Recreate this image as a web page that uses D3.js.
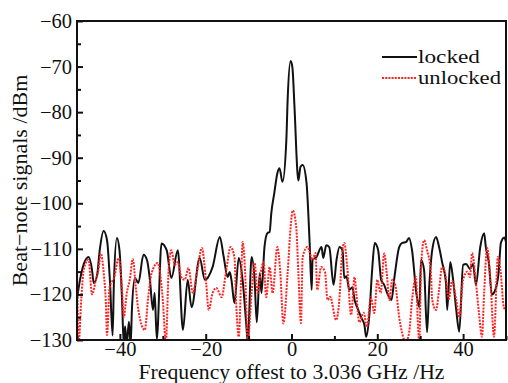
<!DOCTYPE html>
<html>
<head>
<meta charset="utf-8">
<script src="https://cdn.jsdelivr.net/npm/d3@7"></script>
<style>
  body { margin: 0; background: #fff; }
  svg { display: block; }
  text { font-family: "Liberation Serif", "DejaVu Serif", serif; fill: #111; }
</style>
</head>
<body>
<svg id="chart"></svg>
<script>
// frequency offset (Hz) and beat-note power (dBm)
const lockedFreq = [-50.0, -49.3, -48.4, -47.3, -46.5, -46.1, -45.3, -44.7, -43.8, -43.0, -42.3, -41.7, -41.4, -40.7, -40.1, -39.5, -39.1, -38.8, -38.4, -37.9, -37.5, -37.2, -36.5, -35.7, -34.5, -33.7, -33.0, -32.3, -31.9, -31.4, -30.3, -29.1, -28.0, -26.5, -25.3, -24.2, -23.3, -21.4, -20.2, -18.4, -16.7, -15.8, -14.9, -14.4, -14.0, -13.3, -12.3, -11.4, -10.5, -10.2, -9.3, -8.6, -8.1, -7.4, -7.0, -6.3, -5.6, -5.1, -4.7, -4.0, -3.3, -2.8, -2.1, -1.2, -0.9, -0.2, 0.2, 0.7, 1.4, 1.6, 2.1, 2.6, 3.5, 4.2, 4.7, 4.9, 5.8, 7.0, 7.4, 8.1, 8.8, 9.8, 10.5, 11.2, 11.9, 12.3, 12.8, 13.5, 14.2, 14.7, 15.3, 16.3, 17.0, 17.4, 18.1, 18.8, 19.4, 20.2, 20.9, 21.6, 22.3, 23.3, 24.0, 25.1, 25.8, 26.7, 27.4, 28.1, 29.1, 29.8, 30.2, 30.9, 31.6, 32.1, 32.8, 33.7, 34.4, 35.1, 36.0, 36.3, 37.0, 37.6, 38.4, 39.1, 40.0, 40.7, 41.6, 42.3, 43.0, 44.0, 44.9, 45.3, 46.0, 46.7, 47.5, 48.3, 48.8, 49.6, 50.0];
const lockedPower = [-121.0, -116.8, -113.3, -111.8, -114.6, -117.5, -115.7, -110.3, -106.1, -108.1, -117.5, -129.0, -117.5, -107.6, -110.3, -121.2, -131, -127, -131, -126, -131, -123.4, -116.4, -117.5, -111.3, -112.4, -116.8, -123.4, -119.7, -129.8, -108.8, -110.3, -116.4, -110.3, -127.8, -116.8, -122.8, -112.0, -116.8, -114.0, -107.4, -111.8, -116.2, -115.1, -116.8, -121.9, -112.0, -116.8, -127.1, -130.5, -111.8, -116.8, -126.1, -115.3, -119.7, -109.6, -106.5, -106.3, -102.1, -97.7, -93.4, -92.3, -95.3, -86.1, -77.3, -68.8, -70.1, -78.9, -93.4, -95.0, -92.0, -91.6, -95.5, -108.1, -119.0, -112.4, -111.8, -109.6, -112.0, -109.2, -109.6, -117.9, -112.4, -109.6, -110.3, -116.4, -116.0, -119.0, -118.4, -121.2, -122.8, -125.2, -126.7, -129.3, -125.0, -114.6, -108.7, -110.3, -116.8, -117.9, -119.7, -121.2, -116.2, -109.6, -108.7, -108.5, -107.6, -110.3, -119.7, -122.8, -112.4, -114.6, -128.3, -118.4, -110.3, -107.4, -109.6, -112.9, -117.3, -123.4, -112.9, -116.2, -123.4, -128.2, -113.5, -113.3, -114.4, -113.3, -117.9, -109.6, -106.6, -109.6, -113.0, -120.0, -119.0, -115.0, -108.7, -107.5, -108.5];

const unlockedFreq = [-50.0, -49.6, -49.0, -48.4, -47.3, -46.5, -45.6, -44.9, -44.5, -43.7, -43.3, -43.0, -42.4, -41.3, -40.3, -39.5, -39.1, -38.4, -37.7, -37.0, -36.3, -35.7, -34.2, -33.4, -32.6, -31.2, -30.0, -29.3, -28.6, -28.0, -27.2, -26.5, -25.7, -24.9, -24.0, -23.0, -22.0, -20.9, -19.9, -19.3, -18.4, -17.5, -16.3, -15.3, -14.2, -13.3, -12.9, -12.3, -11.7, -11.4, -10.8, -10.2, -9.3, -8.6, -7.9, -7.2, -6.5, -5.9, -5.1, -4.4, -3.3, -2.6, -1.9, -0.9, -0.2, 0.3, 1.1, 1.6, 2.2, 2.6, 3.7, 4.9, 5.6, 6.0, 6.9, 7.8, 8.4, 9.0, 10.4, 11.2, 11.8, 12.3, 13.0, 13.9, 14.7, 15.1, 15.8, 16.8, 17.6, 18.5, 19.3, 20.0, 20.8, 21.6, 22.2, 22.8, 23.5, 24.2, 25.1, 25.8, 26.6, 27.4, 28.1, 29.0, 29.5, 29.8, 30.2, 30.9, 31.6, 32.5, 32.8, 33.7, 34.4, 35.1, 35.8, 36.7, 37.4, 38.4, 39.1, 40.0, 41.0, 41.6, 42.1, 43.0, 43.7, 44.4, 44.9, 45.6, 46.4, 47.2, 48.1, 48.7, 49.5, 50.0];
const unlockedPower = [-114.2, -130.5, -121.0, -114.4, -112.4, -120.0, -116.8, -114.0, -111.0, -116.0, -121.2, -128.9, -118.4, -116.2, -112.0, -119.0, -125.0, -119.7, -116.8, -112.2, -118.4, -123.4, -127.8, -120.6, -115.3, -113.1, -121.2, -130.5, -114.0, -110.3, -113.5, -112.9, -116.2, -116.8, -114.2, -119.7, -115.0, -109.8, -117.5, -123.4, -119.7, -118.6, -120.6, -115.3, -109.6, -111.8, -121.9, -129.3, -115.3, -108.5, -115.3, -130.5, -119.7, -113.1, -119.7, -115.3, -112.9, -120.6, -114.0, -119.7, -109.6, -115.3, -126.4, -115.3, -105.2, -101.6, -105.2, -115.3, -126.3, -111.8, -109.6, -112.4, -110.9, -119.0, -114.0, -115.0, -121.2, -120.5, -125.6, -120.6, -110.9, -108.7, -114.0, -124.5, -116.2, -119.7, -126.1, -124.0, -127.1, -120.6, -124.1, -116.8, -119.7, -111.0, -115.3, -121.2, -116.8, -118.0, -125.0, -128.5, -130.5, -128.5, -121.2, -116.2, -127.1, -130.5, -114.0, -108.1, -110.3, -115.3, -121.2, -123.4, -119.0, -114.0, -115.3, -121.0, -117.0, -121.2, -125.0, -116.8, -115.0, -116.2, -110.9, -117.5, -124.1, -129.3, -119.7, -109.8, -117.5, -129.3, -111.8, -114.6, -122.8, -123.5];

const xTicks = [-40, -20, 0, 20, 40];
const xMinor = [-50, -30, -10, 10, 30, 50];
const yTicks = [-130, -120, -110, -100, -90, -80, -70, -60];
const yMinor = [-125, -115, -105, -95, -85, -75, -65];
const seriesNames = ['locked', 'unlocked'];

const width = 508, height = 383;
const margin = { top: 21, right: 2, bottom: 43, left: 77 };

const svg = d3.select('#chart')
    .attr('width', width)
    .attr('height', height);

const x = d3.scaleLinear()
    .domain([-50, 50])
    .range([margin.left, width - margin.right]);

const y = d3.scaleLinear()
    .domain([-130, -60])
    .range([height - margin.bottom, margin.top]);

svg.append('clipPath').attr('id', 'plot')
    .append('rect')
    .attr('x', margin.left).attr('y', margin.top)
    .attr('width', x(50) - x(-50)).attr('height', y(-130) - y(-60));

const locked = lockedFreq.map((f, i) => [f, lockedPower[i]]);
const unlocked = unlockedFreq.map((f, i) => [f, unlockedPower[i]]);

const line = d3.line()
    .x(d => x(d[0]))
    .y(d => y(d[1]))
    .curve(d3.curveMonotoneX);

const plot = svg.append('g').attr('clip-path', 'url(#plot)');

plot.append('path')
    .datum(locked)
    .attr('fill', 'none')
    .attr('stroke', '#111')
    .attr('stroke-width', 2)
    .attr('stroke-linejoin', 'round')
    .attr('d', line);

plot.append('path')
    .datum(unlocked)
    .attr('fill', 'none')
    .attr('stroke', '#f22')
    .attr('stroke-width', 2)
    .attr('stroke-dasharray', '2,1.2')
    .attr('d', line);

// axes, ticks pointing inward
const xAxis = g => g
    .attr('transform', `translate(0,${y(-130)})`)
    .call(d3.axisBottom(x).tickValues(xTicks).tickSize(-6).tickPadding(1))
    .call(g => g.select('.domain').remove());

const yAxis = g => g
    .attr('transform', `translate(${x(-50)},0)`)
    .call(d3.axisLeft(y).tickValues(yTicks).tickSize(-6).tickPadding(5))
    .call(g => g.select('.domain').remove());

svg.append('g').call(xAxis);
svg.append('g').call(yAxis);

svg.append('g')
    .attr('transform', `translate(0,${y(-130)})`)
    .call(d3.axisBottom(x).tickValues(xMinor).tickSize(-4).tickFormat(''))
    .call(g => g.select('.domain').remove());

svg.append('g')
    .attr('transform', `translate(${x(-50)},0)`)
    .call(d3.axisLeft(y).tickValues(yMinor).tickSize(-4).tickFormat(''))
    .call(g => g.select('.domain').remove());

svg.selectAll('.tick line').attr('stroke', '#111').attr('stroke-width', 2);
svg.selectAll('.tick text')
    .attr('font-family', '"Liberation Serif", serif')
    .attr('font-size', 20.5)
    .attr('fill', '#111');

// frame
svg.append('rect')
    .attr('x', x(-50)).attr('y', y(-60))
    .attr('width', x(50) - x(-50)).attr('height', y(-130) - y(-60))
    .attr('fill', 'none')
    .attr('stroke', '#111')
    .attr('stroke-width', 2);

// axis titles (stretched a little to the width of the original serif face)
svg.append('text')
    .attr('x', (x(-50) + x(50)) / 2)
    .attr('y', 378.5)
    .attr('text-anchor', 'middle')
    .attr('font-size', 20)
    .attr('textLength', 306)
    .attr('lengthAdjust', 'spacingAndGlyphs')
    .text('Frequency offest to 3.036 GHz /Hz');

svg.append('text')
    .attr('transform', `translate(27,${(y(-60) + y(-130)) / 2}) rotate(-90)`)
    .attr('text-anchor', 'middle')
    .attr('font-size', 22)
    .text('Beat\u2212note signals /dBm');

// legend
const legendWidths = [62, 83];
const legend = svg.append('g').attr('transform', 'translate(382,57)');
const legendItems = legend.selectAll('g')
    .data(seriesNames)
    .join('g')
    .attr('transform', (d, i) => `translate(0,${i * 21})`);

legendItems.append('line')
    .attr('x1', 0).attr('x2', 35)
    .attr('stroke', (d, i) => i === 0 ? '#111' : '#f22')
    .attr('stroke-width', 2)
    .attr('stroke-dasharray', (d, i) => i === 0 ? null : '2,1.2');

legendItems.append('text')
    .attr('x', 36)
    .attr('y', 5.5)
    .attr('font-size', 19)
    .attr('textLength', (d, i) => legendWidths[i])
    .attr('lengthAdjust', 'spacingAndGlyphs')
    .text(d => d);
</script>
</body>
</html>
